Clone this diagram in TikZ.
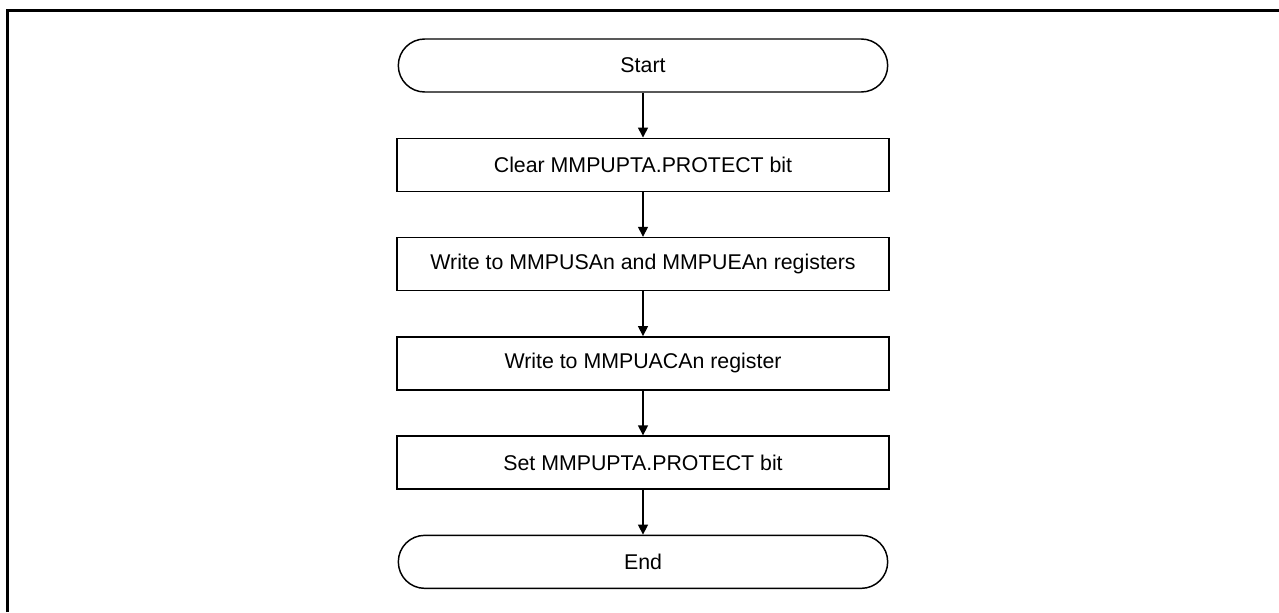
\documentclass[tikz,border=0pt]{standalone}
\usepackage{fontspec}
\setmainfont{Liberation Sans}
\usetikzlibrary{arrows.meta,positioning}
\tikzset{
  fcbox/.style={draw=black, fill=white, line width=1.1pt, minimum width=369pt, minimum height=39.75pt, inner sep=0pt, align=center, font=\fontsize{16}{19}\selectfont},
  fcterm/.style={fcbox, rounded corners=19.8pt, minimum width=367pt},
  fcarrow/.style={-{Triangle[length=7.5pt,width=7.5pt]}, line width=1.1pt, draw=black},
  fcframe/.style={line width=2.3pt, draw=black}
}

\begin{document}
\begin{tikzpicture}[x=0.75pt, y=-0.75pt, node distance=33.6pt]
  \useasboundingbox (0,0) rectangle (1279,612);
  \draw[fcframe] (7.5,612) -- (7.5,10.5) -- (1279,10.5);
  \node[fcterm] (start) at (643,65.5) {Start};
  \node[fcbox, below=of start] (clrprot) {Clear MMPUPTA.PROTECT bit};
  \node[fcbox, below=of clrprot] (wrsaea) {Write to MMPUSAn and MMPUEAn registers};
  \node[fcbox, below=of wrsaea] (wracac) {Write to MMPUACAn register};
  \node[fcbox, below=of wracac] (setprot) {Set MMPUPTA.PROTECT bit};
  \node[fcterm, below=of setprot] (end) {End};
  \draw[fcarrow] (start) -- (clrprot);
  \draw[fcarrow] (clrprot) -- (wrsaea);
  \draw[fcarrow] (wrsaea) -- (wracac);
  \draw[fcarrow] (wracac) -- (setprot);
  \draw[fcarrow] (setprot) -- (end);
\end{tikzpicture}
\end{document}
